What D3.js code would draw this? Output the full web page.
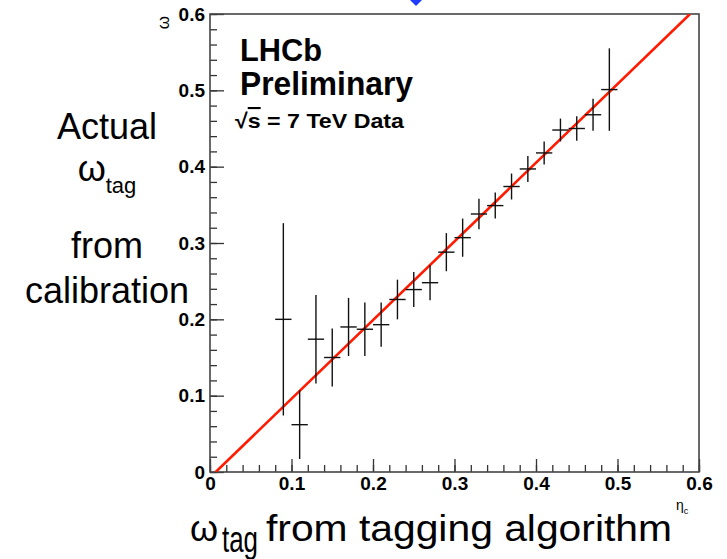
<!DOCTYPE html>
<meta charset="utf-8">
<style>
body { margin: 0; background: #fff; }
svg { display: block; font-family: "Liberation Sans", Arial, Helvetica, sans-serif; }
.tick text { font-weight: bold; font-size: 19px; fill: #000; }
.tick line { stroke: #333; stroke-width: 1.3; }
.frame { fill: none; stroke: #444; stroke-width: 1.6; }
.err { stroke: #111; stroke-width: 1.4; }
.fit { stroke: #ff1a00; stroke-width: 2.6; fill: none; }
.slide { font-size: 36px; fill: #000; }
</style>
<svg width="727" height="559"></svg>
<script src="https://d3js.org/d3.v7.min.js"></script>
<script>

// measured points: omega_tag (x), calibrated omega (y) and error on y
var xVals = [0.09, 0.11, 0.13, 0.15, 0.17, 0.19, 0.21, 0.23, 0.25, 0.27, 0.29,
             0.31, 0.33, 0.35, 0.37, 0.39, 0.41, 0.43, 0.45, 0.47, 0.49];
var yVals = [0.200, 0.062, 0.174, 0.150, 0.190, 0.187, 0.193, 0.226, 0.239, 0.248, 0.288,
             0.307, 0.338, 0.349, 0.374, 0.397, 0.418, 0.448, 0.450, 0.468, 0.501];
var yErr  = [0.126, 0.045, 0.058, 0.038, 0.038, 0.035, 0.029, 0.026, 0.023, 0.023, 0.025,
             0.025, 0.020, 0.017, 0.017, 0.017, 0.015, 0.015, 0.016, 0.021, 0.054];
var xErr = 0.01;

// calibration line end points
var fitX = [0.007, 0.589];
var fitY = [0, 0.6];

var xTicks = [0, 0.1, 0.2, 0.3, 0.4, 0.5, 0.6];
var yTicks = [0, 0.1, 0.2, 0.3, 0.4, 0.5, 0.6];
var tickLabels = ["0", "0.1", "0.2", "0.3", "0.4", "0.5", "0.6"];
var minorTicks = d3.range(0, 31).map(function(i) { return i / 50; });

var svg = d3.select("svg");

var x = d3.scaleLinear().domain([0, 0.6]).range([210, 699]);
var y = d3.scaleLinear().domain([0, 0.6]).range([472, 14]);

// little blue arrow tip from the slide above
svg.append("path")
    .attr("d", "M410,0L422,0L416,6Z")
    .attr("fill", "#1f3cff");

// minor ticks
svg.append("g")
    .attr("transform", "translate(0," + y(0) + ")")
    .call(d3.axisBottom(x).tickValues(minorTicks).tickSizeInner(-7).tickSizeOuter(0).tickFormat(""))
  .select(".domain").remove();
svg.append("g")
    .attr("transform", "translate(" + x(0) + ",0)")
    .call(d3.axisLeft(y).tickValues(minorTicks).tickSizeInner(-7).tickSizeOuter(0).tickFormat(""))
  .select(".domain").remove();

// major ticks + labels
svg.append("g")
    .attr("transform", "translate(0," + y(0) + ")")
    .call(d3.axisBottom(x).tickValues(xTicks).tickSizeInner(-13).tickSizeOuter(0)
      .tickPadding(5).tickFormat(function(d, i) { return tickLabels[i]; }))
  .select(".domain").remove();
svg.append("g")
    .attr("transform", "translate(" + x(0) + ",0)")
    .call(d3.axisLeft(y).tickValues(yTicks).tickSizeInner(-14).tickSizeOuter(0)
      .tickPadding(5).tickFormat(function(d, i) { return tickLabels[i]; }))
  .select(".domain").remove();

svg.selectAll(".tick text").attr("fill", "#000");

svg.append("rect")
    .attr("class", "frame")
    .attr("x", x(0)).attr("y", y(0.6))
    .attr("width", x(0.6) - x(0)).attr("height", y(0) - y(0.6));

// axis titles (ROOT style)
svg.append("text")
    .attr("transform", "translate(169," + (y(0.6) + 2) + ") rotate(-90)")
    .attr("text-anchor", "end")
    .attr("font-size", 17)
    .text("ω");
var et = svg.append("text")
    .attr("x", 676).attr("y", 510)
    .attr("font-size", 14);
et.append("tspan").text("η");
et.append("tspan").attr("dy", 4).attr("font-size", 9).text("c");

// calibration line
svg.append("clipPath").attr("id", "clip")
  .append("rect")
    .attr("x", x(0)).attr("y", y(0.6))
    .attr("width", x(0.6) - x(0)).attr("height", y(0) - y(0.6));

svg.append("path")
    .attr("class", "fit")
    .attr("clip-path", "url(#clip)")
    .attr("d", d3.line()([[x(fitX[0]), y(fitY[0])], [x(fitX[1]), y(fitY[1])]]));

// error crosses
var pts = svg.append("g").selectAll("g")
    .data(xVals.map(function(d, i) { return {x: d, y: yVals[i], e: yErr[i]}; }))
  .enter().append("g");

pts.append("line")
    .attr("class", "err")
    .attr("x1", function(d) { return x(d.x); })
    .attr("x2", function(d) { return x(d.x); })
    .attr("y1", function(d) { return y(d.y - d.e); })
    .attr("y2", function(d) { return y(d.y + d.e); });
pts.append("line")
    .attr("class", "err")
    .attr("x1", function(d) { return x(d.x - xErr); })
    .attr("x2", function(d) { return x(d.x + xErr); })
    .attr("y1", function(d) { return y(d.y); })
    .attr("y2", function(d) { return y(d.y); });

// LHCb label
svg.append("text")
    .attr("x", 240).attr("y", 61)
    .attr("font-weight", "bold").attr("font-size", 32)
    .attr("textLength", 82).attr("lengthAdjust", "spacingAndGlyphs")
    .text("LHCb");
svg.append("text")
    .attr("x", 240).attr("y", 95)
    .attr("font-weight", "bold").attr("font-size", 33)
    .attr("textLength", 173).attr("lengthAdjust", "spacingAndGlyphs")
    .text("Preliminary");
var sq = svg.append("text")
    .attr("x", 235).attr("y", 128)
    .attr("font-weight", "bold").attr("font-size", 21)
    .attr("textLength", 169).attr("lengthAdjust", "spacingAndGlyphs");
sq.append("tspan").text("√");
sq.append("tspan").style("text-decoration", "overline").text("s");
sq.append("tspan").text(" = 7 TeV Data");

// slide text, y title
var left = svg.append("g").attr("class", "slide").attr("text-anchor", "middle");
left.append("text").attr("x", 107).attr("y", 139).text("Actual");
var w = left.append("text").attr("x", 107).attr("y", 181);
w.append("tspan").text("ω");
w.append("tspan").attr("dy", 12).attr("font-size", 22).text("tag");
left.append("text").attr("x", 107).attr("y", 258).text("from");
left.append("text").attr("x", 107).attr("y", 303).text("calibration");

// slide text, x title
svg.append("text")
    .attr("class", "slide")
    .attr("x", 190).attr("y", 541)
    .attr("font-size", 48)
    .text("ω");
svg.append("text")
    .attr("class", "slide")
    .attr("x", 222).attr("y", 552)
    .attr("font-size", 24)
    .attr("textLength", 36).attr("lengthAdjust", "spacingAndGlyphs")
    .text("tag");
svg.append("text")
    .attr("class", "slide")
    .attr("x", 266).attr("y", 541)
    .attr("font-size", 43)
    .attr("textLength", 406).attr("lengthAdjust", "spacingAndGlyphs")
    .text("from tagging algorithm");

</script>
